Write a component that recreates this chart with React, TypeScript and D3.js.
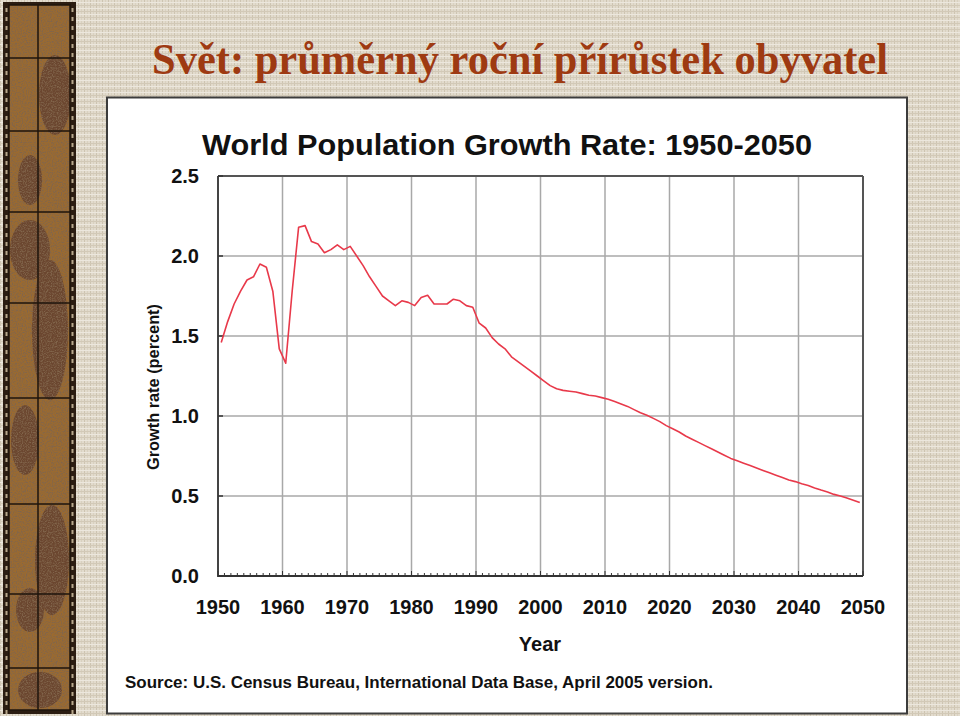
import React from "react";
import * as d3 from "d3";

// Growth rate (percent) for each interval year -> year+1, starting 1950
const growthRate = [
  1.46, 1.59, 1.70, 1.78, 1.85, 1.87, 1.95, 1.93, 1.78, 1.42,
  1.33, 1.78, 2.18, 2.19, 2.09, 2.075, 2.02, 2.04, 2.07, 2.04,
  2.06, 2.00, 1.94, 1.87, 1.81, 1.75, 1.72, 1.69, 1.72, 1.71,
  1.69, 1.74, 1.755, 1.70, 1.70, 1.70, 1.73, 1.72, 1.69, 1.68,
  1.58, 1.55, 1.49, 1.45, 1.42, 1.37, 1.34, 1.31, 1.28, 1.25,
  1.22, 1.19, 1.17, 1.16, 1.155, 1.15, 1.14, 1.13, 1.125, 1.115,
  1.105, 1.09, 1.075, 1.06, 1.04, 1.02, 1.005, 0.985, 0.965, 0.94,
  0.92, 0.90, 0.875, 0.855, 0.835, 0.815, 0.795, 0.775, 0.755, 0.735,
  0.72, 0.705, 0.69, 0.675, 0.66, 0.645, 0.63, 0.615, 0.60, 0.59,
  0.577, 0.565, 0.55, 0.537, 0.525, 0.51, 0.50, 0.487, 0.474, 0.46,
];
const startYear = 1950;
const years = growthRate.map((_, i) => startYear + i);

const xTickYears = [1950, 1960, 1970, 1980, 1990, 2000, 2010, 2020, 2030, 2040, 2050];
const yTickValues = [0, 0.5, 1.0, 1.5, 2.0, 2.5];
const minorYears = d3.range(1950, 2051);

const slideTitle = "Svět: průměrný roční přírůstek obyvatel";
const chartTitle = "World Population Growth Rate: 1950-2050";
const yAxisTitle = "Growth rate (percent)";
const xAxisTitle = "Year";
const sourceText = "Source: U.S. Census Bureau, International Data Base, April 2005 version.";

const stripLinesY = [58, 131, 212, 303, 398, 504, 594, 668];
const sans = "'Liberation Sans', Arial, sans-serif";

export default function App() {
  const W = 960, H = 716;
  const plot = { left: 218, right: 863, top: 176, bottom: 576 };
  const x = d3.scaleLinear().domain([1950, 2050]).range([plot.left, plot.right]);
  const y = d3.scaleLinear().domain([0, 2.5]).range([plot.bottom, plot.top]);
  const line = d3
    .line<number>()
    .x((_, i) => x(years[i] + 0.5))
    .y((d) => y(d));

  const sprockets = d3.range(8, 712, 9);

  return (
    <div style={{ position: "absolute", left: 0, top: 0 }}>
      <svg width={W} height={H} viewBox={`0 0 ${W} ${H}`} style={{ display: "block" }}>
        <defs>
          <pattern id="linen" width="6" height="6" patternUnits="userSpaceOnUse">
            <rect width="6" height="6" fill="#e2dbcd" />
            <rect x="0" y="0" width="1" height="6" fill="#cdc4b1" />
            <rect x="3" y="0" width="1" height="6" fill="#d9d1c0" />
            <rect x="0" y="2" width="6" height="1" fill="#ece7dd" />
            <rect x="0" y="5" width="6" height="1" fill="#d2c9b7" />
          </pattern>
          <filter id="grain" x="0" y="0" width="100%" height="100%" filterUnits="objectBoundingBox">
            <feTurbulence type="fractalNoise" baseFrequency="0.8" numOctaves="2" seed="5" result="noise" />
            <feColorMatrix
              in="noise"
              type="matrix"
              values="0 0 0 0 0.22  0 0 0 0 0.13  0 0 0 0 0.07  3 0 0 0 -1.25"
              result="speck"
            />
            <feComposite in="speck" in2="SourceGraphic" operator="in" />
          </filter>
        </defs>

        {/* slide background */}
        <rect x={0} y={0} width={W} height={H} fill="url(#linen)" />

        {/* left decorative strip */}
        <g>
          <rect x={3} y={2} width={73} height={712} fill="#2b1d12" />
          {sprockets.map((s) => (
            <g key={s}>
              <rect x={5.5} y={s} width={2} height={4} fill="#b8a88c" />
              <rect x={71.5} y={s} width={2} height={4} fill="#b8a88c" />
            </g>
          ))}
          <rect x={9} y={5} width={61} height={705} fill="#9a6a30" />
          <g fill="#66432f" opacity={0.9}>
            <ellipse cx={55} cy={95} rx={16} ry={40} />
            <ellipse cx={30} cy={180} rx={12} ry={25} />
            <ellipse cx={30} cy={250} rx={20} ry={30} />
            <ellipse cx={50} cy={330} rx={18} ry={70} />
            <ellipse cx={25} cy={440} rx={14} ry={35} />
            <ellipse cx={52} cy={560} rx={17} ry={55} />
            <ellipse cx={30} cy={610} rx={14} ry={22} />
            <ellipse cx={40} cy={690} rx={22} ry={18} />
          </g>
          <rect x={9} y={5} width={61} height={705} fill="#000" filter="url(#grain)" />
          <line x1={38} x2={38} y1={5} y2={710} stroke="#1e140c" strokeWidth={1.5} />
          {stripLinesY.map((ly) => (
            <line key={ly} x1={9} x2={70} y1={ly} y2={ly} stroke="#1e140c" strokeWidth={1.5} />
          ))}
          <rect x={9} y={5} width={61} height={705} fill="none" stroke="#1e140c" strokeWidth={1.5} />
        </g>

        {/* slide title */}
        <text
          x={152}
          y={74}
          fontFamily="'Liberation Serif', 'Times New Roman', serif"
          fontWeight="bold"
          fontSize={45}
          fill="#9e3a12"
          textLength={736}
          lengthAdjust="spacingAndGlyphs"
        >
          {slideTitle}
        </text>

        {/* white chart panel */}
        <rect x={107} y={97.5} width={800} height={616} fill="#ffffff" stroke="#3c3c3c" strokeWidth={2} />

        {/* chart title */}
        <text
          x={507}
          y={155}
          textAnchor="middle"
          fontFamily={sans}
          fontWeight="bold"
          fontSize={30}
          fill="#111"
          textLength={610}
          lengthAdjust="spacingAndGlyphs"
        >
          {chartTitle}
        </text>

        {/* gridlines */}
        <g stroke="#a8a8a8" strokeWidth={1.5}>
          {xTickYears.slice(1, -1).map((t) => (
            <line key={t} x1={x(t)} x2={x(t)} y1={plot.top} y2={plot.bottom} />
          ))}
          {yTickValues.slice(1, -1).map((v) => (
            <line key={v} x1={plot.left} x2={plot.right} y1={y(v)} y2={y(v)} />
          ))}
        </g>

        {/* frame */}
        <line x1={plot.left} x2={plot.right} y1={plot.top} y2={plot.top} stroke="#555" strokeWidth={2} />
        <line x1={plot.right} x2={plot.right} y1={plot.top} y2={plot.bottom} stroke="#555" strokeWidth={2} />
        <line x1={plot.left} x2={plot.left} y1={plot.top} y2={plot.bottom + 1} stroke="#444" strokeWidth={2} />
        <line x1={plot.left} x2={plot.right} y1={plot.bottom} y2={plot.bottom} stroke="#333" strokeWidth={2} />

        {/* y ticks (inside) */}
        <g stroke="#333" strokeWidth={1.5}>
          {yTickValues.map((v) => (
            <line key={v} x1={plot.left} x2={plot.left + 5} y1={y(v)} y2={y(v)} />
          ))}
        </g>
        {/* x minor ticks */}
        <g stroke="#333" strokeWidth={1}>
          {minorYears.map((t) => (
            <line key={t} x1={x(t)} x2={x(t)} y1={plot.bottom} y2={plot.bottom - (t % 10 === 0 ? 5 : 3)} />
          ))}
        </g>

        {/* data line */}
        <path d={line(growthRate) || ""} fill="none" stroke="#e8394a" strokeWidth={1.6} strokeLinejoin="round" />

        {/* y tick labels */}
        <g fontFamily={sans} fontWeight="bold" fontSize={20} fill="#111" textAnchor="end">
          {yTickValues.map((v) => (
            <text key={v} x={199} y={y(v) + 7}>
              {d3.format(".1f")(v)}
            </text>
          ))}
        </g>

        {/* x tick labels */}
        <g fontFamily={sans} fontWeight="bold" fontSize={20} fill="#111" textAnchor="middle">
          {xTickYears.map((t) => (
            <text key={t} x={x(t)} y={614}>
              {t}
            </text>
          ))}
        </g>

        {/* axis titles */}
        <text
          x={540}
          y={651}
          textAnchor="middle"
          fontFamily={sans}
          fontWeight="bold"
          fontSize={20}
          fill="#111"
        >
          {xAxisTitle}
        </text>
        <text
          transform="translate(159,387) rotate(-90)"
          textAnchor="middle"
          fontFamily={sans}
          fontWeight="bold"
          fontSize={16.5}
          fill="#111"
          textLength={166}
          lengthAdjust="spacingAndGlyphs"
        >
          {yAxisTitle}
        </text>

        {/* source */}
        <text
          x={125}
          y={688}
          fontFamily={sans}
          fontWeight="bold"
          fontSize={17}
          fill="#111"
          textLength={588}
          lengthAdjust="spacingAndGlyphs"
        >
          {sourceText}
        </text>
      </svg>
    </div>
  );
}
